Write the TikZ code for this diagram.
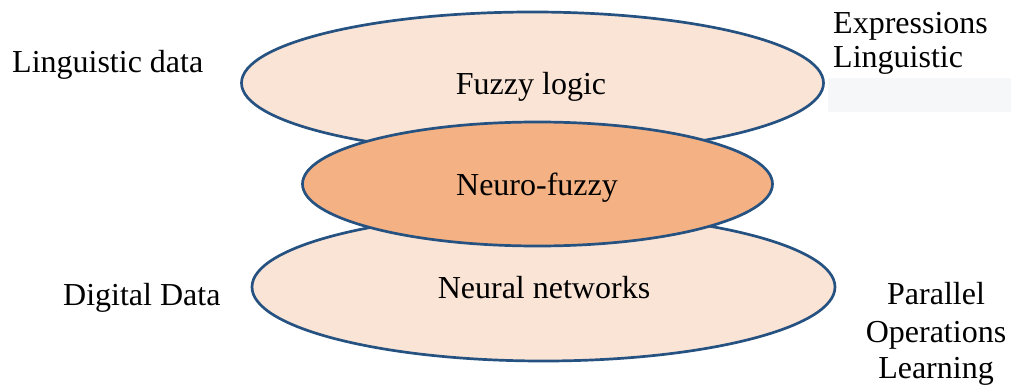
\documentclass[tikz,border=0pt]{standalone}
\usepackage{fontspec}
\setmainfont{Liberation Serif}
\usetikzlibrary{shapes.geometric}

\definecolor{rimblue}{HTML}{265282}
\definecolor{palepeach}{HTML}{FAE4D6}
\definecolor{deeppeach}{HTML}{F4B183}
\definecolor{notegray}{HTML}{F6F7F9}

\tikzset{
  layer/.style={ellipse, draw=rimblue, line width=2.7pt, inner sep=0pt},
  outerlayer/.style={layer, fill=palepeach},
  corelayer/.style={layer, fill=deeppeach},
  lbl/.style={inner sep=0pt, font=\fontsize{32}{38}\selectfont, text=black}
}

\begin{document}
\begin{tikzpicture}[x=1pt, y=-1pt]
  \useasboundingbox (0,0) rectangle (1011,385);

  % faint panel behind the upper-right note
  \fill[notegray] (828,78) rectangle (1011,112);

  % the three stacked layers
  \node[outerlayer, minimum width=582pt, minimum height=142pt] (fuzzy) at (532.5,83) {};
  \node[outerlayer, minimum width=583pt, minimum height=148pt] (neural) at (543.5,287) {};
  \node[corelayer, minimum width=470pt, minimum height=124pt] (hybrid) at (537.5,184) {};

  % layer titles
  \node[lbl, anchor=base] (tfuzzy) at (531,95) {Fuzzy logic};
  \node[lbl, anchor=base] (thybrid) at (537,195) {Neuro-fuzzy};
  \node[lbl, anchor=base] (tneural) at (544,298) {Neural networks};

  % left-hand inputs
  \node[lbl, anchor=base west] (lingdata) at (12,73) {Linguistic data};
  \node[lbl, anchor=base west] (digdata) at (63,305) {Digital Data};

  % right-hand properties
  \node[lbl, anchor=base west] (expr1) at (833,34) {Expressions};
  \node[lbl, anchor=base west] (expr2) at (833,68) {Linguistic};
  \node[lbl, anchor=base] (prop1) at (936,304) {Parallel};
  \node[lbl, anchor=base] (prop2) at (936,342) {Operations};
  \node[lbl, anchor=base] (prop3) at (936,378) {Learning};
\end{tikzpicture}
\end{document}
